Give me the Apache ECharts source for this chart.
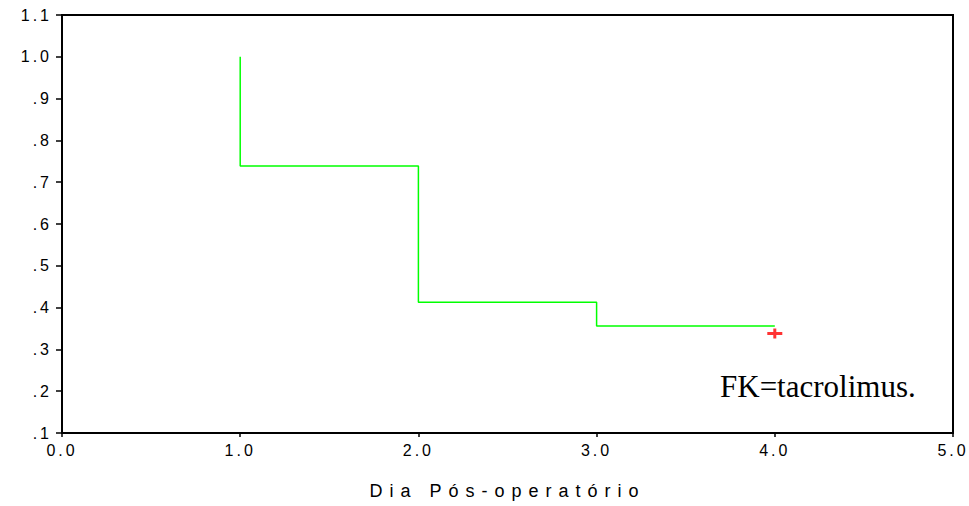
<!DOCTYPE html>
<html>
<head>
<meta charset="utf-8">
<script src="https://cdn.jsdelivr.net/npm/echarts@6/dist/echarts.min.js"></script>
<style>
  html, body { margin: 0; padding: 0; background: #fff; }
  #chart { width: 969px; height: 506px; }
  /* SPSS-style widely spaced sans labels */
  #chart text { letter-spacing: 3px; }
  #chart text[style*="Arimo"] { letter-spacing: 7px; }
  #chart text[style*="Serif"] { letter-spacing: 0; }
</style>
</head>
<body>
<div id="chart"></div>
<script>
  // Kaplan-Meier style survival curve
  const days = [1, 2, 3, 4]
  const survival = [1.0, 0.739, 0.413, 0.356]
  const censored = [[4, 0.338]]
  const yMin = 0.1
  const yMax = 1.1
  const xMin = 0
  const xMax = 5
  const xAxisName = 'Dia Pós-operatório'
  const note = 'FK=tacrolimus.'

  const chart = echarts.init(document.getElementById('chart'), null, { renderer: 'svg' })

  const sans = 'Liberation Sans'
  chart.setOption({
    animation: false,
    grid: {
      left: 62,
      right: 16,
      top: 15,
      bottom: 73,
      show: true,
      borderColor: '#000',
      borderWidth: 2
    },
    xAxis: {
      type: 'value',
      min: xMin,
      max: xMax,
      interval: 1,
      name: xAxisName,
      nameLocation: 'middle',
      nameGap: 49,
      nameTextStyle: { color: '#000', fontSize: 18, fontFamily: 'Arimo, Liberation Sans' },
      axisLine: { lineStyle: { color: '#000', width: 2 } },
      axisTick: { length: 4, lineStyle: { color: '#000', width: 1.5 } },
      axisLabel: {
        color: '#000',
        fontSize: 16,
        fontFamily: sans,
        margin: 9,
        formatter: v => v.toFixed(1)
      },
      splitLine: { show: false }
    },
    yAxis: {
      type: 'value',
      min: yMin,
      max: yMax,
      interval: 0.1,
      axisLine: { lineStyle: { color: '#000', width: 2 } },
      axisTick: { length: 6, lineStyle: { color: '#000', width: 1.5 } },
      axisLabel: {
        color: '#000',
        fontSize: 16,
        fontFamily: sans,
        margin: 10,
        formatter: v => {
          const n = Math.round(v * 10)
          return n >= 10 ? (n / 10).toFixed(1) : '.' + n
        }
      },
      splitLine: { show: false }
    },
    graphic: [{
      type: 'text',
      left: 720,
      top: 371,
      style: {
        text: note,
        fill: '#000',
        font: '31px "Liberation Serif"'
      }
    }],
    series: [
      {
        type: 'line',
        step: 'start',
        data: days.map((d, i) => [d, survival[i]]),
        symbol: 'none',
        lineStyle: { color: '#00ff00', width: 1.5 }
      },
      {
        type: 'scatter',
        data: censored,
        symbol: 'path://M0,3.5H15V6.5H0Z M6,0H9V10H6Z',
        symbolSize: [15, 10],
        itemStyle: { color: '#ff0000' }
      }
    ]
  })
</script>
</body>
</html>
